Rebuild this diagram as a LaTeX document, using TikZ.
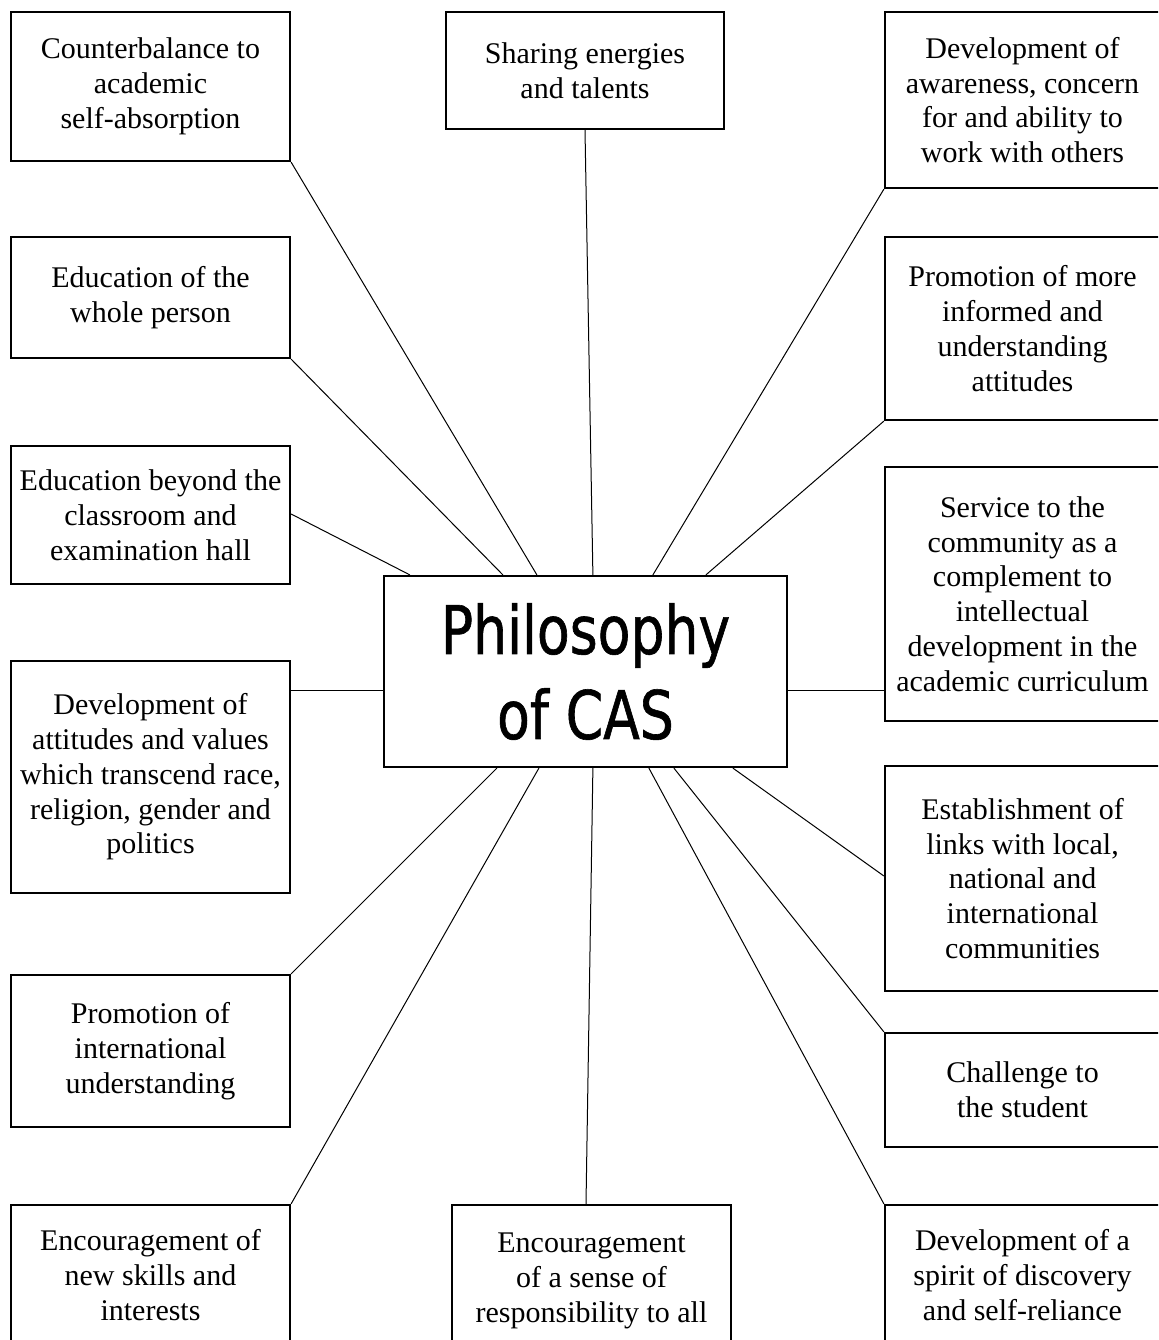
\documentclass[tikz,border=0pt]{standalone}
\usepackage{fontspec}
\setmainfont{Liberation Serif}
\newfontfamily\casfont[FakeStretch=0.8,FakeBold=0.9]{DejaVu Sans}
\usetikzlibrary{calc}
\tikzset{
  idea/.style={draw, line width=1.1pt, rectangle, inner sep=0pt, align=center,
    font=\fontsize{15pt}{17.4pt}\selectfont},
  hub/.style={draw, line width=1.1pt, rectangle, inner sep=0pt, align=center,
    font=\casfont\fontsize{33.5pt}{42.5pt}\selectfont},
  link/.style={line width=0.5pt}
}
\begin{document}
\begin{tikzpicture}[x=0.5pt, y=-0.5pt]
\useasboundingbox (0,0) rectangle (1158,1340);
\clip (0,0) rectangle (1158,1340);
\fill[white] (0,0) rectangle (1158,1340);

% hub
\node[hub, minimum width=201.5pt, minimum height=95.5pt] (C) at (585.5,671.5) {Philosophy\\of CAS};

% left column
\node[idea, minimum width=139.5pt, minimum height=74.5pt] (L1) at (150.5,86.5) {Counterbalance to\\academic\\self-absorption};
\node[idea, minimum width=139.5pt, minimum height=60.5pt] (L2) at (150.5,297.5) {Education of the\\whole person};
\node[idea, minimum width=139.5pt, minimum height=69pt] (L3) at (150.5,515) {Education beyond the\\classroom and\\examination hall};
\node[idea, minimum width=139.5pt, minimum height=116pt] (L4) at (150.5,777) {Development of\\attitudes and values\\which transcend race,\\religion, gender and\\politics};
\node[idea, minimum width=139.5pt, minimum height=76pt] (L5) at (150.5,1051) {Promotion of\\international\\understanding};
\node[idea, minimum width=139.5pt, minimum height=70pt] (L6) at (150.5,1275) {Encouragement of\\new skills and\\interests};

% centre column
\node[idea, minimum width=139pt, minimum height=58.5pt] (T) at (585,70.5) {Sharing energies\\and talents};
\node[idea, minimum width=139.5pt, minimum height=76pt] (B) at (591.5,1281) {Encouragement\\of a sense of\\responsibility to all};

% right column
\node[idea, minimum width=137.5pt, minimum height=88pt] (R1) at (1022.5,100) {Development of\\awareness, concern\\for and ability to\\work with others};
\node[idea, minimum width=137.5pt, minimum height=91.5pt] (R2) at (1022.5,328.5) {Promotion of more\\informed and\\understanding\\attitudes};
\node[idea, minimum width=137.5pt, minimum height=127pt] (R3) at (1022.5,594) {Service to the\\community as a\\complement to\\intellectual\\development in the\\academic curriculum};
\node[idea, minimum width=137.5pt, minimum height=112.5pt] (R4) at (1022.5,878.5) {Establishment of\\links with local,\\national and\\international\\communities};
\node[idea, minimum width=137.5pt, minimum height=57pt] (R5) at (1022.5,1090) {Challenge to\\the student};
\node[idea, minimum width=137.5pt, minimum height=70pt] (R6) at (1022.5,1275) {Development of a\\spirit of discovery\\and self-reliance};

% attachment points on the hub
\coordinate (cw) at ($(C.west)+(0,18.5)$);
\coordinate (ce) at ($(C.east)+(0,18.5)$);

% connectors
\draw[link] (L1.south east) -- ($(C.north west)+(154,0)$);
\draw[link] (L2.south east) -- ($(C.north west)+(120,0)$);
\draw[link] ($(L3.east)+(0,-1)$) -- ($(C.north west)+(27,0)$);
\draw[link] (cw) -- (cw -| L4.east);
\draw[link] (L5.north east) -- ($(C.south west)+(114,0)$);
\draw[link] (L6.north east) -- ($(C.south west)+(156,0)$);
\draw[link] (T.south) -- ($(C.north west)+(210,0)$);
\draw[link] ($(B.north)+(-5.5,0)$) -- ($(C.south west)+(210,0)$);
\draw[link] (R1.south west) -- ($(C.north west)+(270,0)$);
\draw[link] (R2.south west) -- ($(C.north west)+(323,0)$);
\draw[link] (ce) -- (ce -| R3.west);
\draw[link] ($(R4.west)+(0,-2.5)$) -- ($(C.south west)+(350,0)$);
\draw[link] (R5.north west) -- ($(C.south west)+(291,0)$);
\draw[link] (R6.north west) -- ($(C.south west)+(266,0)$);
\end{tikzpicture}
\end{document}
